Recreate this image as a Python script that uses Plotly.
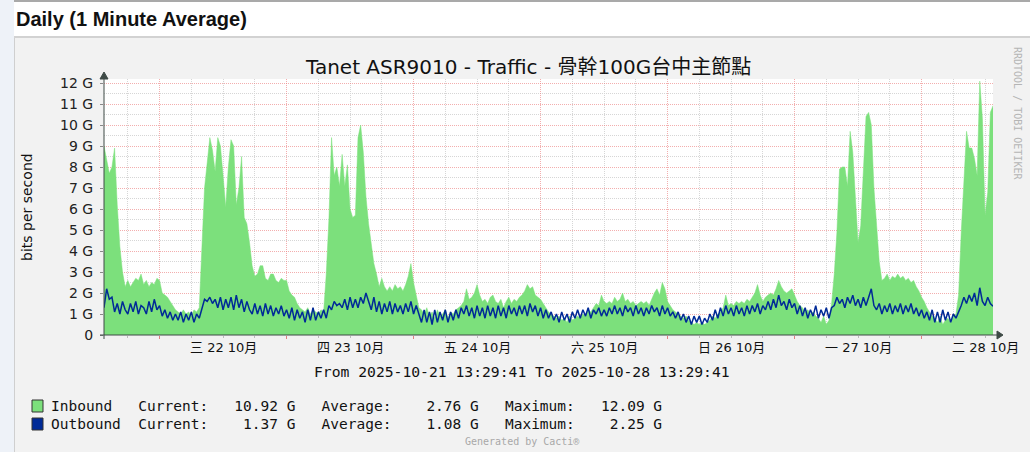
import pandas as pd
import plotly.graph_objects as go

# ---- data (values in G bits/s, 30 minute steps) ----
start = "2025-10-21 13:29:41"
end = "2025-10-28 13:29:41"

inbound = [
    9.0, 8.3, 7.7, 8.0, 8.9, 6.2, 4.2, 3.0, 2.3, 2.6, 2.3, 2.5,
    2.7, 2.6, 2.9, 2.4, 2.6, 2.3, 2.5, 2.4, 2.7, 2.6, 2.0, 1.9,
    1.8, 1.6, 1.4, 1.2, 1.1, 1.0, 1.2, 1.0, 1.1, 0.9, 1.2, 1.1,
    1.3, 4.5, 7.0, 8.2, 9.4, 8.8, 7.8, 9.4, 9.0, 7.6, 6.1, 8.0,
    9.3, 9.0, 6.2, 7.0, 8.5, 5.6, 5.3, 4.4, 3.3, 2.8, 2.9, 3.3,
    3.3, 2.7, 2.6, 2.9, 2.9, 2.6, 2.5, 2.7, 2.6, 2.6, 2.1, 1.9,
    1.8, 1.5, 1.3, 1.2, 1.1, 1.3, 1.0, 1.2, 1.1, 1.0, 1.2, 1.1,
    2.9, 5.5, 9.4, 7.6, 8.0, 7.1, 8.6, 7.1, 8.1, 6.0, 5.6, 5.7,
    9.4, 10.0, 8.7, 6.6, 5.3, 4.2, 3.4, 2.9, 2.3, 2.7, 2.3, 2.1,
    2.3, 2.1, 2.4, 2.2, 2.3, 2.1, 2.4, 2.8, 3.4, 2.5, 1.9, 1.3,
    1.2, 1.0, 1.3, 0.9, 1.1, 0.8, 1.2, 0.9, 1.0, 1.2, 0.8, 1.1,
    1.0, 1.2, 1.3, 1.4, 1.6, 2.2, 1.7, 1.8, 2.0, 2.4, 1.9, 1.6,
    1.7, 1.5, 1.8, 1.9, 1.6, 1.5, 1.7, 1.3, 1.6, 1.8, 1.5, 1.7,
    1.6, 1.8, 1.9, 2.1, 2.4, 2.2, 2.3, 1.9, 1.8, 1.7, 1.5, 1.3,
    1.1, 1.0, 0.9, 0.8, 0.9, 0.7, 0.8, 0.6, 0.9, 0.7, 0.8, 0.9,
    0.8, 1.0, 0.9, 1.2, 1.1, 1.3, 1.5, 1.4, 1.9, 1.6, 1.5, 1.6,
    1.5, 1.8, 1.6, 1.7, 2.0, 1.6, 1.7, 1.5, 1.6, 1.4, 1.5, 1.6,
    1.5, 1.6, 1.4, 1.7, 2.0, 2.2, 1.9, 2.5, 2.2, 1.6, 1.4, 1.2,
    1.1, 1.0, 0.9, 0.8, 0.9, 0.7, 0.6, 0.5, 0.6, 0.5, 0.6, 0.5,
    0.6, 0.7, 0.9, 0.8, 1.0, 1.1, 1.3, 1.9, 1.4, 1.5, 1.4, 1.6,
    1.5, 1.6, 1.5, 1.7, 1.6, 1.8, 2.0, 2.4, 1.9, 1.6, 1.8, 1.9,
    2.0, 1.9, 2.2, 2.6, 2.3, 2.1, 2.0, 2.1, 2.2, 1.9, 1.6, 1.4,
    1.3, 1.1, 1.2, 1.0, 1.1, 0.9, 0.8, 0.6, 0.9, 0.5, 0.7, 1.5,
    2.9, 4.9, 7.9, 8.0, 8.0, 7.1, 9.7, 8.7, 6.4, 4.4, 5.2, 8.0,
    10.4, 10.6, 10.0, 7.0, 5.0, 3.5, 2.6, 2.7, 2.9, 2.6, 2.8, 2.7,
    2.9, 2.7, 2.8, 2.6, 2.7, 2.5, 2.6, 2.3, 2.1, 1.8, 1.6, 1.3,
    1.1, 0.9, 0.8, 0.6, 0.9, 0.5, 0.7, 0.8, 0.6, 0.9, 1.0, 1.9,
    4.9, 7.3, 9.7, 8.9, 8.9, 8.4, 7.6, 12.09, 10.3, 5.7, 6.8, 10.6,
    10.92,
]

outbound = [
    1.3, 2.2, 1.7, 1.8, 1.1, 1.5, 1.0, 1.6, 1.2, 1.0, 1.5, 1.1,
    1.6, 1.0, 1.4, 1.3, 1.0, 1.6, 1.1, 1.7, 1.2, 1.4, 0.9, 1.2,
    0.8, 1.1, 0.7, 1.0, 0.7, 1.1, 0.6, 1.0, 0.7, 1.1, 0.6, 1.0,
    0.8, 1.3, 1.7, 1.6, 1.8, 1.5, 1.7, 1.3, 1.8, 1.2, 1.7, 1.3,
    1.8, 1.2, 1.9, 1.3, 1.7, 1.1, 1.6, 1.2, 1.0, 1.5, 1.0, 1.4,
    0.9, 1.5, 1.0, 1.4, 0.9, 1.3, 1.0, 1.4, 0.9, 1.2, 0.8, 1.3,
    0.7, 1.2, 0.8, 1.1, 0.6, 1.2, 0.7, 1.3, 0.7, 1.1, 0.8, 1.2,
    0.8, 1.4, 1.2, 1.6, 1.4, 1.5, 1.3, 1.7, 1.2, 1.8, 1.3, 1.7,
    1.3, 1.8, 1.5, 2.0, 1.6, 1.2, 1.8, 1.1, 1.6, 1.0, 1.5, 1.1,
    1.6, 1.0, 1.5, 1.1, 1.4, 1.0, 1.5, 1.1, 1.6, 1.0, 1.4, 1.0,
    0.6, 1.2, 0.6, 1.1, 0.5, 1.2, 0.6, 1.1, 0.7, 1.2, 0.6, 1.1,
    0.7, 1.2, 0.8, 1.3, 1.0, 1.4, 0.9, 1.3, 0.8, 1.4, 0.9, 1.3,
    0.8, 1.4, 0.9, 1.3, 0.8, 1.4, 0.9, 1.3, 0.8, 1.4, 1.0, 1.3,
    0.9, 1.4, 1.0, 1.4, 0.9, 1.5, 1.1, 1.4, 0.9, 1.3, 0.8, 1.2,
    0.8, 1.1, 0.7, 1.0, 0.6, 1.1, 0.7, 1.0, 0.6, 1.1, 0.8, 1.2,
    0.8, 1.2, 0.9, 1.3, 0.8, 1.2, 1.0, 1.3, 0.9, 1.2, 0.9, 1.3,
    1.0, 1.4, 1.0, 1.3, 0.9, 1.4, 1.1, 1.3, 0.9, 1.4, 1.0, 1.3,
    0.9, 1.3, 1.0, 1.4, 1.1, 1.3, 0.9, 1.4, 1.0, 1.3, 0.9, 1.1,
    0.8, 1.1, 0.7, 1.0, 0.6, 0.9, 0.5, 0.9, 0.6, 0.9, 0.5, 0.8,
    0.6, 1.0, 0.7, 1.2, 0.8, 1.3, 0.9, 1.4, 1.0, 1.3, 0.9, 1.4,
    1.0, 1.3, 0.9, 1.4, 1.0, 1.4, 1.1, 1.5, 1.0, 1.4, 1.2, 1.6,
    1.2, 1.7, 1.3, 1.9, 1.4, 1.6, 1.2, 1.7, 1.3, 1.5, 1.0, 1.4,
    0.9, 1.3, 0.8, 1.2, 0.9, 1.4, 0.8, 1.2, 0.9, 1.3, 0.8, 1.3,
    1.4, 1.8, 1.5, 1.7, 1.3, 1.8, 1.5, 1.9, 1.4, 1.7, 1.3, 1.8,
    1.4, 1.8, 2.2, 1.4, 1.2, 1.5, 1.0, 1.4, 1.1, 1.5, 1.0, 1.4,
    1.1, 1.5, 1.0, 1.4, 1.1, 1.5, 1.0, 1.3, 0.9, 1.2, 0.8, 1.1,
    0.7, 1.2, 0.6, 1.1, 0.6, 1.2, 0.7, 1.1, 0.6, 1.0, 0.8, 1.1,
    1.4, 1.8, 1.5, 1.9, 1.6, 2.0, 1.4, 2.25, 1.6, 1.4, 1.8, 1.5,
    1.37,
]

times = pd.date_range(start, periods=len(inbound), freq="30min")

day_noons = ["2025-10-22 12:00", "2025-10-23 12:00", "2025-10-24 12:00",
             "2025-10-25 12:00", "2025-10-26 12:00", "2025-10-27 12:00",
             "2025-10-28 12:00"]
day_labels = ["三 22 10月", "四 23 10月", "五 24 10月", "六 25 10月",
              "日 26 10月", "一 27 10月", "二 28 10月"]

y_ticks = list(range(13))
y_labels = ["0"] + [f"{v} G" for v in range(1, 13)]

legend_rows = [
    ("Inbound", "Inbound   Current:   10.92 G   Average:    2.76 G   Maximum:   12.09 G"),
    ("Outbound", "Outbound  Current:    1.37 G   Average:    1.08 G   Maximum:    2.25 G"),
]

GREEN = "#7CE07C"
BLUE = "#002A97"
AXIS = "#3E4A46"
RED_GRID = "rgba(235,120,120,0.6)"
GRAY_GRID = "#D6D6D6"
SANS = "DejaVu Sans, Noto Sans CJK TC, sans-serif"
MONO = "DejaVu Sans Mono, monospace"

# ---- pixel geometry of the plot area ----
W, H = 1030, 452
L, R, T, B = 104, 993, 79, 335


def px(x):
    return (x - L) / (R - L)


def py(y):
    return (B - y) / (B - T)


def nb(s):
    return s.replace(" ", "\u00a0")


fig = go.Figure()
fig.add_scatter(x=times, y=inbound, mode="lines", fill="tozeroy",
                fillcolor=GREEN, line=dict(color=GREEN, width=0.5),
                name="Inbound", hoverinfo="skip")
fig.add_scatter(x=times, y=outbound, mode="lines",
                line=dict(color=BLUE, width=1.5),
                name="Outbound", hoverinfo="skip")

shapes = [
    # page pieces around the graph image
    dict(type="rect", x0=px(0), x1=px(14), y0=py(H), y1=py(0),
         fillcolor="#EEF2F8", line_width=0, layer="below"),
    dict(type="rect", x0=px(14), x1=px(W), y0=py(2), y1=py(0),
         fillcolor="#A9A9A9", line_width=0, layer="below"),
    dict(type="rect", x0=px(14), x1=px(W), y0=py(36), y1=py(2),
         fillcolor="white", line_width=0, layer="below"),
    dict(type="rect", x0=px(14), x1=px(W), y0=py(38), y1=py(36),
         fillcolor="#D2D2D2", line_width=0, layer="below"),
    dict(type="rect", x0=px(14), x1=px(15), y0=py(H), y1=py(38),
         fillcolor="#CFCFCF", line_width=0, layer="below"),
    # axes with arrows
    dict(type="line", x0=px(100), x1=px(998), y0=py(B), y1=py(B),
         line=dict(color=AXIS, width=1)),
    dict(type="line", x0=px(L), x1=px(L), y0=py(339), y1=py(78),
         line=dict(color=AXIS, width=1)),
    dict(type="path",
         path=f"M {px(997)},{py(331)} L {px(1003)},{py(B)} L {px(997)},{py(339)} Z",
         fillcolor=AXIS, line=dict(color=AXIS, width=1)),
    dict(type="path",
         path=f"M {px(100)},{py(79)} L {px(L)},{py(72)} L {px(108)},{py(79)} Z",
         fillcolor=AXIS, line=dict(color=AXIS, width=1)),
    # legend swatches
    dict(type="rect", x0=px(32), x1=px(43), y0=py(412), y1=py(400),
         fillcolor=GREEN, line=dict(color="#333333", width=1)),
    dict(type="rect", x0=px(32), x1=px(43), y0=py(430), y1=py(418),
         fillcolor=BLUE, line=dict(color="#333333", width=1)),
]

annotations = [
    dict(text="<b>Daily (1 Minute Average)</b>", x=px(14), y=py(19),
         xanchor="left", yanchor="middle",
         font=dict(family="Liberation Sans, Arial", size=20, color="#111111")),
    dict(text="Tanet ASR9010 - Traffic - 骨幹100G台中主節點",
         x=px(528), y=py(67), xanchor="center", yanchor="middle",
         font=dict(family=SANS, size=20, color="#111111")),
    dict(text="bits per second", x=px(27), y=py(207), textangle=-90,
         xanchor="center", yanchor="middle",
         font=dict(family=SANS, size=14, color="#111111")),
    dict(text="RRDTOOL / TOBI OETIKER", x=px(1018), y=py(113), textangle=90,
         xanchor="center", yanchor="middle",
         font=dict(family=MONO, size=10, color="#B5B5B5")),
    dict(text=nb("From 2025-10-21 13:29:41 To 2025-10-28 13:29:41"),
         x=px(522), y=py(371), xanchor="center", yanchor="middle",
         font=dict(family=MONO, size=14.7, color="#111111")),
    dict(text="Generated by Cacti®", x=px(522), y=py(441),
         xanchor="center", yanchor="middle",
         font=dict(family=MONO, size=10, color="#A8A8A8")),
]
for (name, row), yy in zip(legend_rows, [406, 424]):
    annotations.append(dict(text=nb(row), x=px(49), y=py(yy),
                            xanchor="left", yanchor="middle",
                            font=dict(family=MONO, size=14.5, color="#111111")))
for pos, lab in zip(day_noons, day_labels):
    annotations.append(dict(text=lab, x=pos, xref="x", y=py(347), yref="paper",
                            xanchor="center", yanchor="middle", showarrow=False,
                            font=dict(family=SANS, size=13, color="#111111")))

for a in annotations:
    a.setdefault("xref", "paper")
    a.setdefault("yref", "paper")
    a.setdefault("showarrow", False)
for s in shapes:
    s.setdefault("xref", "paper")
    s.setdefault("yref", "paper")

fig.update_layout(
    width=W, height=H, autosize=False,
    margin=dict(l=L, r=W - R, t=T, b=H - B, pad=0),
    paper_bgcolor="#F2F2F2",
    plot_bgcolor="white",
    showlegend=False,
    shapes=shapes,
    annotations=annotations,
    xaxis=dict(
        type="date", range=[start, end],
        tick0="2025-10-22 00:00:00", dtick=86400000,
        showticklabels=False, ticks="outside", ticklen=3,
        tickcolor="#E08080",
        showgrid=True, gridcolor=RED_GRID, griddash="1px,1px", gridwidth=1,
        minor=dict(tick0="2025-10-21 18:00:00", dtick=21600000,
                   showgrid=True, gridcolor=GRAY_GRID, griddash="1px,1px",
                   ticks="outside", ticklen=2, tickcolor="#BBBBBB"),
        zeroline=False, showline=False, fixedrange=True,
    ),
    yaxis=dict(
        range=[0, (B - T) / 21.0],
        tickmode="array", tickvals=y_ticks, ticktext=y_labels,
        ticks="outside", ticklen=3, tickcolor="#888888",
        tickfont=dict(family=SANS, size=14, color="#222222"),
        ticklabelstandoff=4,
        showgrid=True, gridcolor=RED_GRID, griddash="1px,1px", gridwidth=1,
        minor=dict(tick0=0.5, dtick=1, showgrid=True, gridcolor=GRAY_GRID,
                   griddash="1px,1px"),
        zeroline=False, showline=False, fixedrange=True,
    ),
)

fig.write_html("out.html", config={"displayModeBar": False},
               post_script="document.body.style.margin='0';"
                           "document.body.style.overflow='hidden';")
